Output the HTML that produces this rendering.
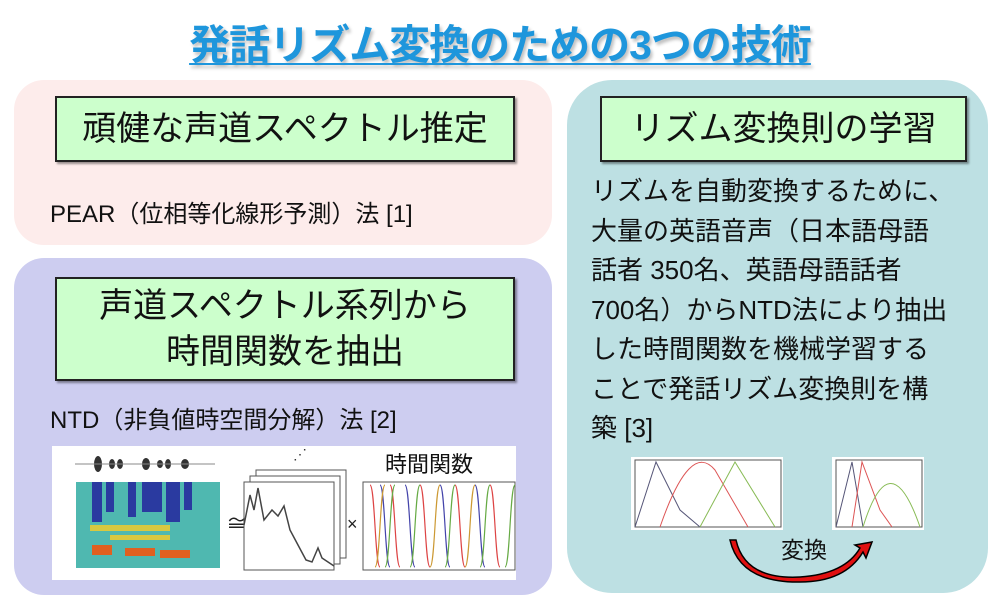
<!DOCTYPE html>
<html><head><meta charset="utf-8"><style>
body{margin:0;width:1000px;height:607px;background:#fff;position:relative;overflow:hidden;font-family:"Liberation Sans","Noto Sans CJK JP",sans-serif;color:#111}
.a{position:absolute}
.g{position:absolute;background:#ccffcc;border:2px solid #222;box-shadow:2px 2px 2px rgba(0,0,0,.4);text-align:center;font-size:34px;box-sizing:border-box;white-space:nowrap}
.t{position:absolute;font-size:24px;white-space:nowrap}
</style></head><body>
<div class="a" style="left:0;width:1000px;top:11px;text-align:center;font-size:41px;font-weight:bold;color:#1e96dc;text-decoration:underline;text-decoration-thickness:2px;text-underline-offset:4px;letter-spacing:-1px;text-shadow:2px 3px 3px rgba(0,0,0,.25)">発話リズム変換のための3つの技術</div>
<div class="a" style="left:14px;top:80px;width:538px;height:165px;background:#fdeceb;border-radius:30px"></div>
<div class="a" style="left:14px;top:258px;width:538px;height:337px;background:#cdcdf0;border-radius:30px"></div>
<div class="a" style="left:567px;top:80px;width:421px;height:513px;background:#bde0e3;border-radius:45px"></div>
<div class="g" style="left:55px;top:96px;width:460px;height:66px;line-height:62px">頑健な声道スペクトル推定</div>
<div class="g" style="left:55px;top:277px;width:460px;height:104px;line-height:46px;padding-top:4px">声道スペクトル系列から<br>時間関数を抽出</div>
<div class="g" style="left:600px;top:96px;width:367px;height:66px;line-height:62px">リズム変換則の学習</div>
<div class="t" style="left:50px;top:194px">PEAR（位相等化線形予測）法 [1]</div>
<div class="t" style="left:50px;top:400px">NTD（非負値時空間分解）法 [2]</div>
<div class="a" style="left:591px;top:172px;font-size:26px;line-height:39.5px;white-space:nowrap">リズムを自動変換するために、<br>大量の英語音声（日本語母語<br>話者 350名、英語母語話者<br>700名）からNTD法により抽出<br>した時間関数を機械学習する<br>ことで発話リズム変換則を構<br>築 [3]</div>
<svg class="a" style="left:0;top:0" width="1000" height="607">
<rect x="52" y="446" width="464" height="134" fill="#fff"/>
<g fill="#333"><ellipse cx="98" cy="464" rx="4" ry="8"/><ellipse cx="112" cy="464" rx="3" ry="5"/><ellipse cx="120" cy="464" rx="3" ry="5"/><ellipse cx="146" cy="464" rx="4" ry="6"/><ellipse cx="160" cy="464" rx="3" ry="4"/><ellipse cx="168" cy="464" rx="3" ry="5"/><ellipse cx="185" cy="464" rx="4" ry="5"/></g>
<line x1="75" y1="464" x2="215" y2="464" stroke="#888"/>
<rect x="76" y="482" width="144" height="86" fill="#4fb8b0"/>
<g fill="#2a3aa0"><rect x="92" y="482" width="10" height="40"/><rect x="106" y="482" width="8" height="30"/><rect x="128" y="482" width="8" height="35"/><rect x="142" y="482" width="20" height="30"/><rect x="166" y="482" width="14" height="40"/><rect x="184" y="482" width="8" height="28"/></g>
<g fill="#d8c840"><rect x="90" y="525" width="80" height="6"/><rect x="110" y="535" width="60" height="5"/></g>
<g fill="#e06020"><rect x="92" y="545" width="20" height="10"/><rect x="125" y="548" width="30" height="8"/><rect x="160" y="550" width="30" height="8"/></g>
<text x="226" y="531" font-size="22" fill="#222">≅</text>
<rect x="256" y="470" width="90" height="88" fill="#fff" stroke="#555"/>
<rect x="250" y="476" width="90" height="88" fill="#fff" stroke="#555"/>
<rect x="244" y="482" width="90" height="88" fill="#fff" stroke="#555"/>
<path d="M244 525 L250 495 L254 510 L258 488 L264 520 L272 510 L278 516 L284 506 L290 530 L298 545 L306 560 L312 562 L318 548 L322 558 L334 566" fill="none" stroke="#444" stroke-width="1.5"/>
<text x="293" y="459" font-size="14" fill="#333">⋰</text>
<text x="347" y="530" font-size="18" fill="#222">×</text>
<rect x="363" y="482" width="152" height="88" fill="#fff" stroke="#555"/>
<g fill="none" stroke-width="1.2"><path d="M370 485 C375 485 375 567 380 567 M390 485 C395 485 395 567 400 567 M420 485 C425 485 425 567 430 567 M455 485 C460 485 460 567 465 567 M490 485 C495 485 495 567 500 567" stroke="#d44"/><path d="M380 485 C385 485 385 567 390 567 M405 485 C410 485 410 567 415 567 M440 485 C445 485 445 567 450 567 M475 485 C480 485 480 567 485 567" stroke="#44a"/><path d="M385 567 C390 567 390 485 395 485 M410 567 C415 567 415 485 420 485 M445 567 C450 567 450 485 455 485 M480 567 C485 567 485 485 490 485 M505 567 C510 567 510 485 515 485" stroke="#6a4"/><path d="M375 567 C380 567 380 485 385 485 M430 567 C435 567 435 485 440 485 M465 567 C470 567 470 485 475 485" stroke="#c93"/></g>
<text x="385" y="472" font-size="22" fill="#111" font-family="Liberation Sans,Noto Sans CJK JP,sans-serif">時間関数</text>
<rect x="631" y="457" width="152" height="73" fill="#fff"/><rect x="635" y="460" width="146" height="67" fill="none" stroke="#555"/>
<path d="M635 527 L656 462 L680 510 L700 527" fill="none" stroke="#557" />
<path d="M660 527 Q690 440 715 470 L748 527" fill="none" stroke="#d55"/>
<path d="M700 527 L735 462 L775 527" fill="none" stroke="#8b5"/>
<rect x="832" y="457" width="92" height="73" fill="#fff"/><rect x="836" y="460" width="86" height="67" fill="none" stroke="#555"/>
<path d="M836 527 L852 462 L863 527" fill="none" stroke="#557"/>
<path d="M852 527 L862 462 L880 510 L892 527" fill="none" stroke="#d55"/>
<path d="M863 527 Q890 440 920 527" fill="none" stroke="#8b5"/>
<path d="M736 540 Q745 580 800 577 Q845 574 860 548 L855 545 L872 542 L866 558 L863 552 Q845 582 800 582 Q740 583 730 540 Z" fill="#e01010" stroke="#000" stroke-width="1.5"/>
<text x="781" y="558" font-size="23" fill="#111" font-family="Liberation Sans,Noto Sans CJK JP,sans-serif">変換</text>
</svg>
</body></html>
